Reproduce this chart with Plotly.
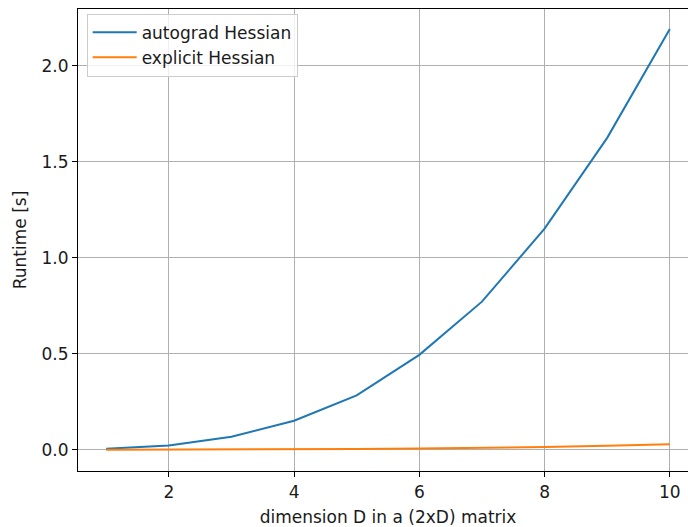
import plotly.graph_objects as go

dims = [1, 2, 3, 4, 5, 6, 7, 8, 9, 10]
autograd_runtime = [0.006, 0.023, 0.068, 0.152, 0.284, 0.495, 0.772, 1.152, 1.625, 2.192]
explicit_runtime = [0.0005, 0.001, 0.002, 0.003, 0.005, 0.007, 0.010, 0.015, 0.021, 0.029]
series_names = ["autograd Hessian", "explicit Hessian"]
x_ticks = [2, 4, 6, 8, 10]
y_ticks = [0.0, 0.5, 1.0, 1.5, 2.0]
y_tick_labels = ["0.0", "0.5", "1.0", "1.5", "2.0"]

FONT = "DejaVu Sans"
FS = 17
fig = go.Figure()
fig.add_trace(go.Scatter(x=dims, y=autograd_runtime, mode="lines", name=series_names[0],
                         line=dict(color="#1f77b4", width=2)))
fig.add_trace(go.Scatter(x=dims, y=explicit_runtime, mode="lines", name=series_names[1],
                         line=dict(color="#ff7f0e", width=2)))

axis_common = dict(showgrid=True, gridcolor="#b0b0b0", gridwidth=1, zeroline=False,
                   showline=True, linecolor="black", linewidth=1.2,
                   ticks="outside", ticklen=5, tickwidth=1.2, tickcolor="black",
                   automargin=False,
                   tickfont=dict(family=FONT, size=FS, color="#1a1a1a"))

fig.update_layout(
    width=698, height=527,
    margin=dict(l=78, r=0, t=9, b=56),
    paper_bgcolor="white", plot_bgcolor="white",
    font=dict(family=FONT, size=FS, color="#1a1a1a"),
    xaxis=dict(range=[0.55, 10.45], tickvals=x_ticks, mirror=True,
               title=dict(text="dimension D in a (2xD) matrix", standoff=10,
                          font=dict(family=FONT, size=FS)),
               **axis_common),
    yaxis=dict(range=[-0.11, 2.296], tickvals=y_ticks, ticktext=y_tick_labels,
               title=dict(text="Runtime [s]", standoff=10, font=dict(family=FONT, size=FS)),
               **axis_common),
    legend=dict(x=0.014, y=0.99, xanchor="left", yanchor="top",
                bgcolor="rgba(255,255,255,0.8)", bordercolor="#cccccc", borderwidth=1,
                font=dict(family=FONT, size=FS, color="#1a1a1a"),
                tracegroupgap=0, itemwidth=44),
    showlegend=True,
)
fig.write_html("out.html", config={"displayModeBar": False},
               post_script="document.body.style.margin='0';document.body.style.padding='0';document.body.style.overflow='hidden';document.documentElement.style.overflow='hidden';")
